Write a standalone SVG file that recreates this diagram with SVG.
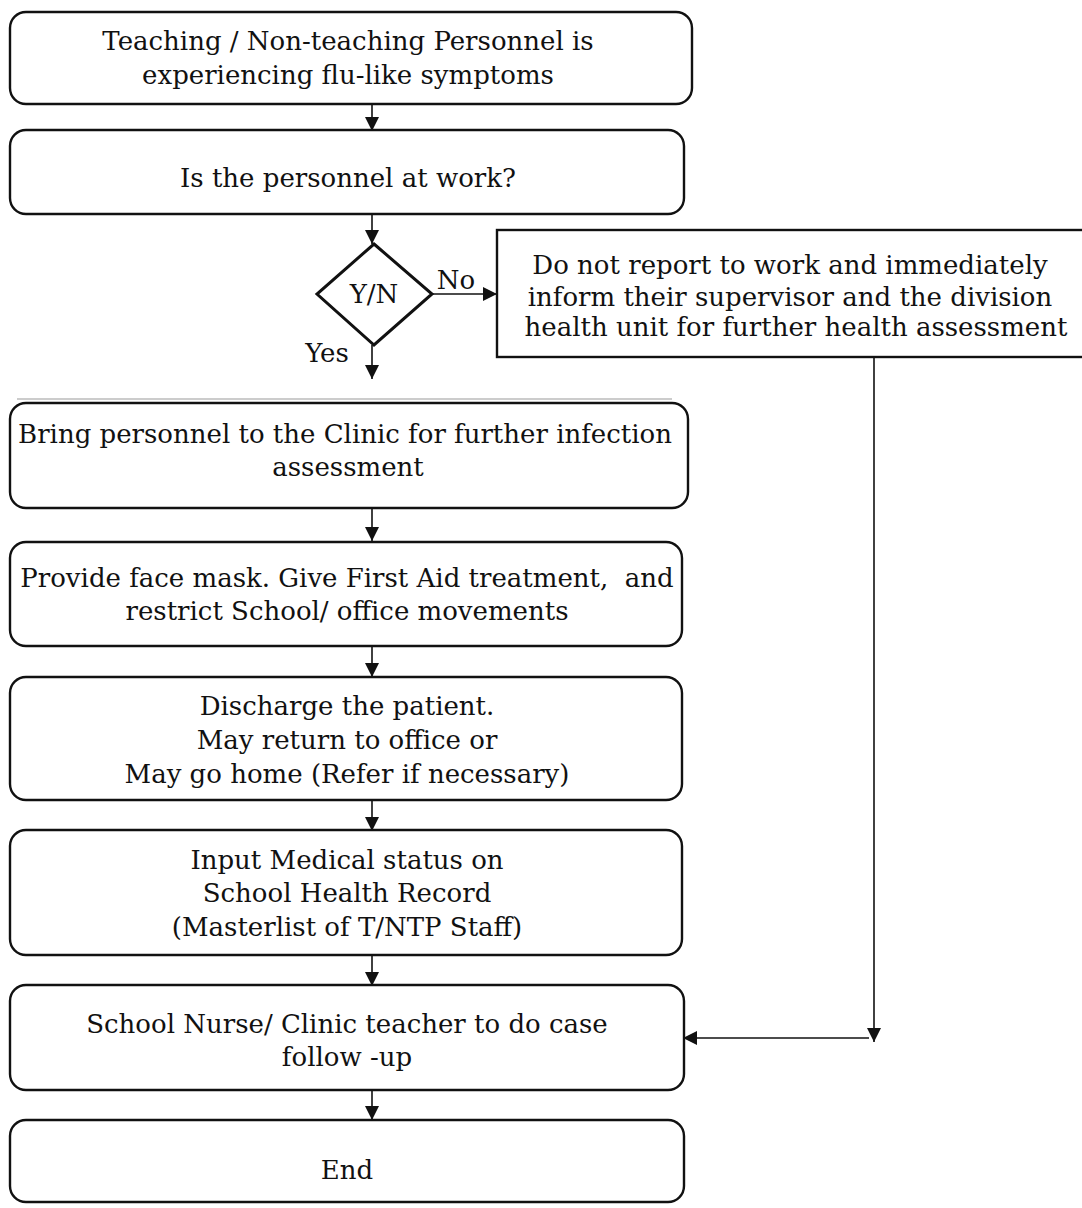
<svg xmlns="http://www.w3.org/2000/svg" width="1082" height="1208" viewBox="0 0 1082 1208">
<style>
.box{fill:#fff;stroke:#111;stroke-width:2.4}
.t{font-family:"DejaVu Serif","Liberation Serif",serif;font-size:26px;fill:#111;text-anchor:middle}
.c{stroke:#111;stroke-width:1.6;fill:none}
</style>
<defs>
<marker id="ah" viewBox="0 0 14 14" refX="14" refY="7" markerWidth="14" markerHeight="14" markerUnits="userSpaceOnUse" orient="auto">
<path d="M0,0 L14,7 L0,14 Z" fill="#111"/>
</marker>
</defs>
<rect width="1082" height="1208" fill="#fff"/>
<g id="connectors">
<line class="c" x1="372" y1="104" x2="372" y2="131" marker-end="url(#ah)"/>
<line class="c" x1="372" y1="214" x2="372" y2="244" marker-end="url(#ah)"/>
<line class="c" x1="432" y1="294" x2="497" y2="294" marker-end="url(#ah)"/>
<line class="c" x1="372" y1="345" x2="372" y2="379" marker-end="url(#ah)"/>
<line class="c" x1="372" y1="508" x2="372" y2="541" marker-end="url(#ah)"/>
<line class="c" x1="372" y1="646" x2="372" y2="677" marker-end="url(#ah)"/>
<line class="c" x1="372" y1="800" x2="372" y2="831" marker-end="url(#ah)"/>
<line class="c" x1="372" y1="955" x2="372" y2="986" marker-end="url(#ah)"/>
<line class="c" x1="372" y1="1090" x2="372" y2="1120" marker-end="url(#ah)"/>
<line class="c" x1="874" y1="357" x2="874" y2="1042" marker-end="url(#ah)"/>
<line class="c" x1="869" y1="1038" x2="683" y2="1038" marker-end="url(#ah)"/>
<text class="t" x="456" y="289">No</text>
<text class="t" x="327" y="362">Yes</text>
</g>
<g id="n1"><rect class="box" x="10" y="12" width="682" height="92" rx="16"/>
<text class="t" x="348" y="50">Teaching / Non-teaching Personnel is</text>
<text class="t" x="348" y="84">experiencing flu-like symptoms</text></g>
<g id="n2"><rect class="box" x="10" y="130" width="674" height="84" rx="16"/>
<text class="t" x="348" y="187">Is the personnel at work?</text></g>
<g id="n3"><path class="box" style="stroke-width:3" d="M374,244 L432,294 L374,345 L317,294 Z"/>
<text class="t" x="374" y="303">Y/N</text></g>
<g id="n4"><rect class="box" x="497" y="230" width="590" height="127"/>
<text class="t" x="790" y="274">Do not report to work and immediately</text>
<text class="t" x="790" y="306">inform their supervisor and the division</text>
<text class="t" x="796" y="336">health unit for further health assessment</text></g>
<g id="n5"><line x1="17" y1="399" x2="672" y2="399" stroke="#999" stroke-width="1.2"/>
<rect class="box" x="10" y="403" width="678" height="105" rx="16"/>
<text class="t" x="345" y="443">Bring personnel to the Clinic for further infection</text>
<text class="t" x="348" y="476">assessment</text></g>
<g id="n6"><rect class="box" x="10" y="542" width="672" height="104" rx="16"/>
<text class="t" x="347" y="587" xml:space="preserve">Provide face mask. Give First Aid treatment,  and</text>
<text class="t" x="347" y="620">restrict School/ office movements</text></g>
<g id="n7"><rect class="box" x="10" y="677" width="672" height="123" rx="16"/>
<text class="t" x="347" y="715">Discharge the patient.</text>
<text class="t" x="347" y="749">May return to office or</text>
<text class="t" x="347" y="783">May go home (Refer if necessary)</text></g>
<g id="n8"><rect class="box" x="10" y="830" width="672" height="125" rx="16"/>
<text class="t" x="347" y="869">Input Medical status on</text>
<text class="t" x="347" y="902">School Health Record</text>
<text class="t" x="347" y="936">(Masterlist of T/NTP Staff)</text></g>
<g id="n9"><rect class="box" x="10" y="985" width="674" height="105" rx="16"/>
<text class="t" x="347" y="1033">School Nurse/ Clinic teacher to do case</text>
<text class="t" x="347" y="1066">follow -up</text></g>
<g id="n10"><rect class="box" x="10" y="1120" width="674" height="82" rx="16"/>
<text class="t" x="347" y="1179">End</text></g>
</svg>
